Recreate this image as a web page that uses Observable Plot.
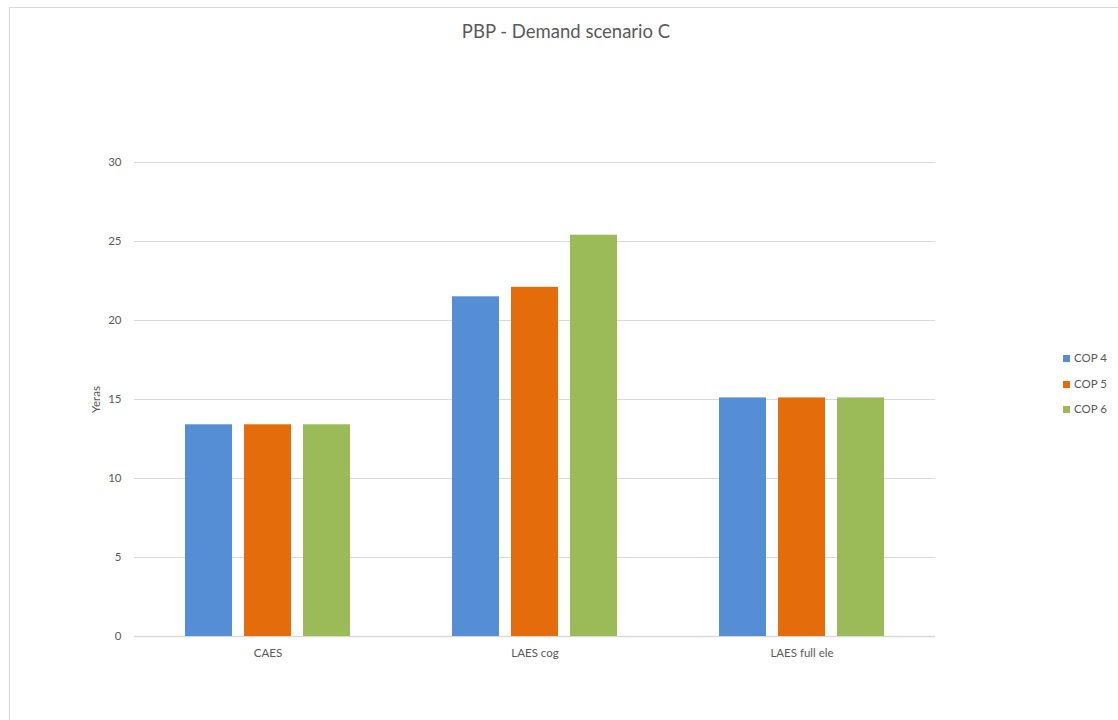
<!DOCTYPE html>
<html>
<head>
<meta charset="utf-8">
<script src="https://cdn.jsdelivr.net/npm/d3@7"></script>
<script src="https://cdn.jsdelivr.net/npm/@observablehq/plot@0.6"></script>
<style>
  html, body { margin: 0; padding: 0; background: #fff; }
  #wrap { position: relative; width: 1118px; height: 720px; overflow: hidden; font-family: Lato, "Open Sans", sans-serif; color: #595959; }
  #frame { position: absolute; left: 9px; top: 7px; width: 1120px; height: 730px; border: 1px solid #d9d9d9; box-sizing: border-box; }
  #title { position: absolute; left: 0; width: 1132px; top: 20px; text-align: center; font-size: 18.5px; color: #595959; }
  #chart { position: absolute; left: 0; top: 0; }
  #legend { position: absolute; left: 1063px; top: 345px; font-size: 11.5px; line-height: 25.7px; }
  #legend .sw { display: inline-block; width: 7px; height: 7px; margin-right: 4px; vertical-align: 0px; }
</style>
</head>
<body>
<div id="wrap">
  <div id="frame"></div>
  <div id="chart"></div>
  <div id="title">PBP - Demand scenario C</div>
  <div id="legend"></div>
</div>
<script>
// Payback period (years) per storage technology, for three heat-pump COPs
const categories = ["CAES", "LAES cog", "LAES full ele"];
const series = ["COP 4", "COP 5", "COP 6"];
const cop4 = [13.4, 21.5, 15.1];
const cop5 = [13.4, 22.1, 15.1];
const cop6 = [13.4, 25.4, 15.1];
const colors = ["#558ed5", "#e46c0a", "#9bbb59"];
const yTicks = [0, 5, 10, 15, 20, 25, 30];

const values = [cop4, cop5, cop6];
const data = [];
categories.forEach((c, i) => {
  series.forEach((s, j) => data.push({category: c, series: s, value: values[j][i]}));
});

const chart = Plot.plot({
  width: 1118,
  height: 720,
  marginLeft: 134,
  marginRight: 183,
  marginTop: 162,
  marginBottom: 84,
  style: {fontFamily: "Lato, 'Open Sans', sans-serif", fontSize: "11.5px", color: "#595959", background: "transparent"},
  fx: {domain: categories, padding: 0, label: null},
  x: {domain: series, paddingInner: 0.21, paddingOuter: 0.85, axis: null},
  y: {domain: [0, 30], label: "Yeras"},
  color: {domain: series, range: colors},
  marks: [
    Plot.gridY(yTicks, {stroke: "#d9d9d9", strokeOpacity: 1}),
    Plot.ruleY([0], {stroke: "#d9d9d9", strokeWidth: 1.5}),
    Plot.barY(data, {fx: "category", x: "series", y: "value", fill: "series"}),
    Plot.axisY(yTicks, {tickSize: 0, tickPadding: 13, label: "Yeras", labelAnchor: "center", labelArrow: "none", labelOffset: 43}),
    Plot.axisFx({anchor: "bottom", tickSize: 0, tickPadding: 12, label: null})
  ]
});
document.getElementById("chart").appendChild(chart);

const legend = document.getElementById("legend");
series.forEach((s, j) => {
  const row = document.createElement("div");
  row.innerHTML = `<span class="sw" style="background:${colors[j]}"></span>${s}`;
  legend.appendChild(row);
});
</script>
</body>
</html>
